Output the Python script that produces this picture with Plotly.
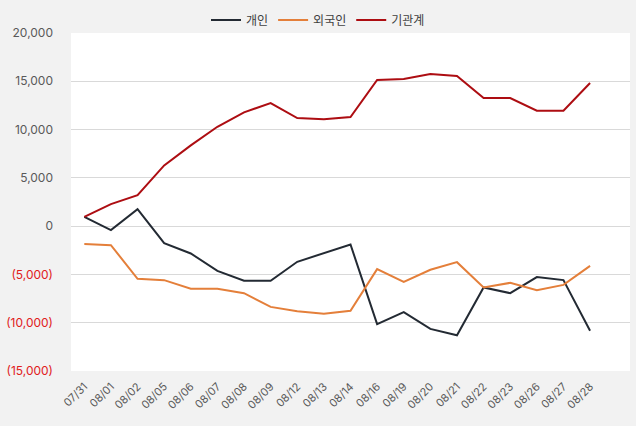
import plotly.graph_objects as go

dates = ["07/31","08/01","08/02","08/05","08/06","08/07","08/08","08/09","08/12","08/13",
         "08/14","08/16","08/19","08/20","08/21","08/22","08/23","08/26","08/27","08/28"]
individual = [950, -410, 1760, -1760, -2830, -4630, -5660, -5660, -3690, -2800,
              -1900, -10150, -8900, -10640, -11300, -6350, -6940, -5280, -5590, -10840]
foreign = [-1860, -1970, -5450, -5590, -6490, -6490, -6940, -8360, -8810, -9080,
           -8770, -4450, -5770, -4520, -3730, -6350, -5870, -6630, -6080, -4110]
institution = [960, 2280, 3210, 6290, 8360, 10290, 11780, 12750, 11190, 11080,
               11300, 15130, 15230, 15750, 15540, 13260, 13260, 11950, 11950, 14820]

names = ["개인", "외국인", "기관계"]
colors = ["#232a33", "#e47f3a", "#ad0d12"]
tick_vals = [20000, 15000, 10000, 5000, 0, -5000, -10000, -15000]

def fmt(v):
    if v < 0:
        return "<span style='color:#e0201b'>(" + f"{-v:,}" + ")</span>"
    return f"{v:,}"

fig = go.Figure()
for nm, ys, c in zip(names, [individual, foreign, institution], colors):
    fig.add_trace(go.Scatter(x=dates, y=ys, name=nm, mode="lines",
                             line=dict(color=c, width=2)))

fig.update_layout(
    width=636, height=426,
    margin=dict(l=71, r=6, t=33, b=55, autoexpand=False),
    paper_bgcolor="#f2f2f2", plot_bgcolor="#ffffff",
    font=dict(family="Inter, Noto Sans CJK KR, sans-serif", size=12, color="#595959"),
    showlegend=True,
    legend=dict(orientation="h", xref="container", yref="container",
                x=0.5, xanchor="center", y=(426-20)/426, yanchor="middle",
                font=dict(size=12, color="#404040"), bgcolor="rgba(0,0,0,0)",
                itemwidth=30, tracegroupgap=0),
)
fig.update_xaxes(type="category", range=[-0.5, 20.5], showgrid=False, zeroline=False,
                 showline=False, tickangle=-45, tickfont=dict(size=11, color="#595959"),
                 ticks="", automargin=False, ticklabelstandoff=6)
fig.update_yaxes(range=[-15000, 20000], tickvals=tick_vals,
                 ticktext=[fmt(v) for v in tick_vals],
                 showgrid=True, gridcolor="#d9d9d9", gridwidth=1, zeroline=False,
                 showline=False, ticks="", ticklabelstandoff=17, automargin=False,
                 tickfont=dict(size=12, color="#595959"))

fig.write_html("out.html")
